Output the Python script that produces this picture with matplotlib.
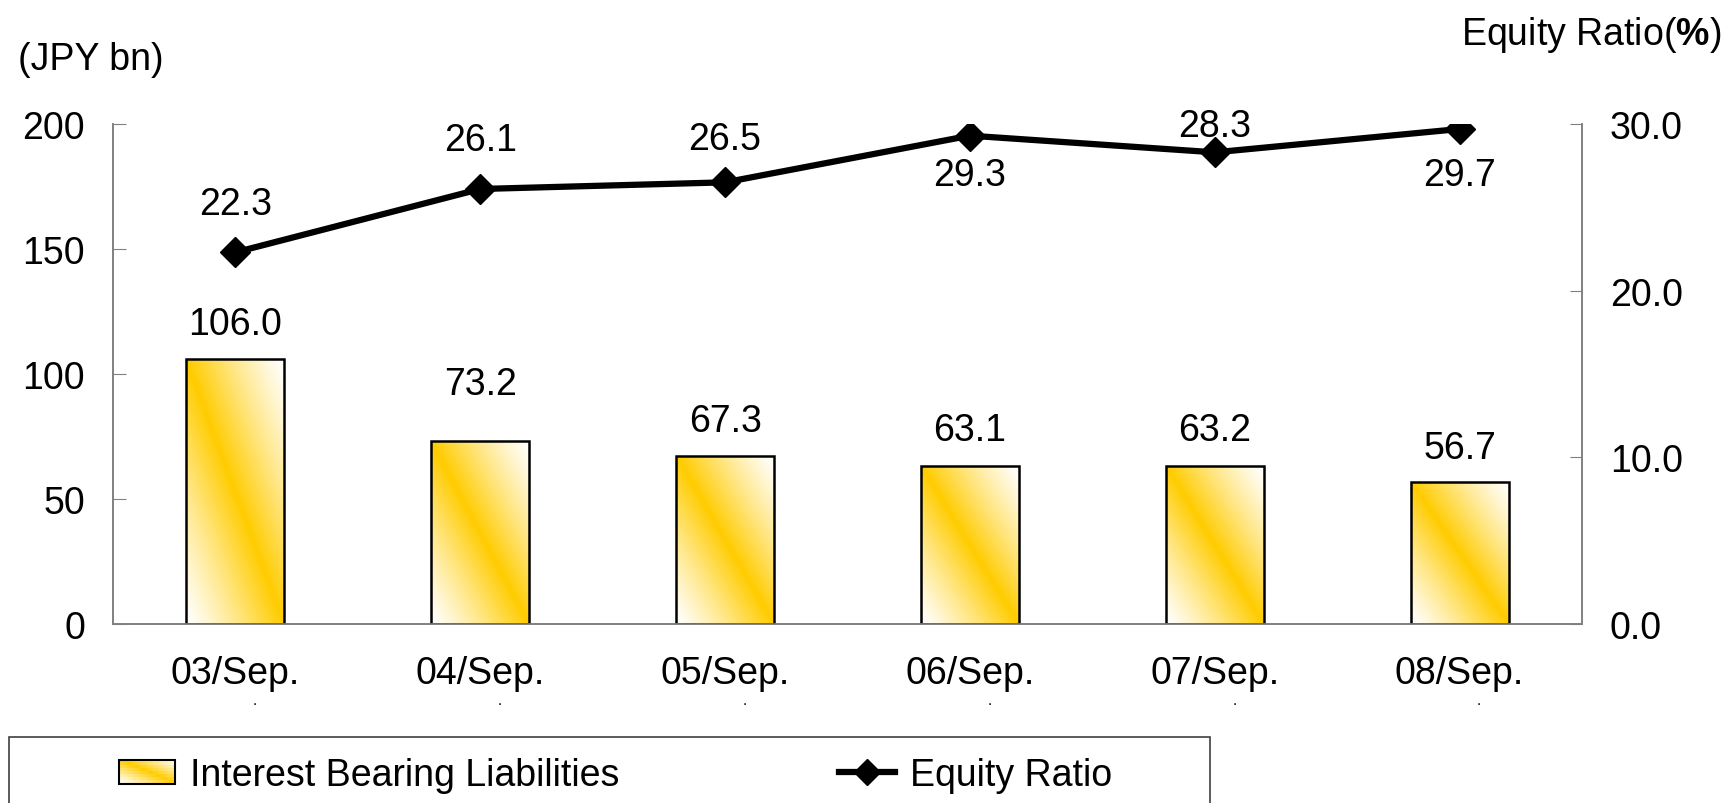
"""Interest bearing liabilities (bars) vs equity ratio (line), Sep. each year."""
import matplotlib
matplotlib.use("Agg")
import matplotlib.pyplot as plt
import numpy as np
from matplotlib.colors import to_rgb
from matplotlib.legend_handler import HandlerBase
from matplotlib.lines import Line2D
from matplotlib.patches import Rectangle

plt.rcParams["font.family"] = ["Liberation Sans", "DejaVu Sans"]
plt.rcParams["mathtext.fontset"] = "custom"
plt.rcParams["mathtext.rm"] = "Liberation Sans"
plt.rcParams["mathtext.bf"] = "Liberation Sans:bold"

# data
periods = ["03/Sep.", "04/Sep.", "05/Sep.", "06/Sep.", "07/Sep.", "08/Sep."]
liabilities = [106.0, 73.2, 67.3, 63.1, 63.2, 56.7]
equity_ratio = [22.3, 26.1, 26.5, 29.3, 28.3, 29.7]
left_ticks = [0, 50, 100, 150, 200]
right_ticks = [0.0, 10.0, 20.0, 30.0]

# label offsets (points, + is up)
bar_label_dy = [25, 41, 25, 26, 26, 25]
ratio_label_dy = [35, 35, 31, -28, 19, -33]

GOLD = np.array(to_rgb("#FFCC00"))
SPINE = "#808080"
FS = 27
W, H, DPI = 1729, 804, 100


def band(u, v):
    # gold along the top-left -> bottom-right diagonal, fading to white
    k = np.clip(1 - np.abs(u - v), 0, 1) ** 1.2
    return 1 - k[..., None] * (1 - GOLD)


def gradient_image(n=200):
    u = np.linspace(0, 1, n)[None, :].repeat(n, 0)
    v = np.linspace(0, 1, n)[:, None].repeat(n, 1)
    return band(u, v)


class GradientHandler(HandlerBase):
    def create_artists(self, legend, orig_handle, xdescent, ydescent,
                       width, height, fontsize, trans):
        arts = []
        nx, ny = 24, 8
        for i in range(nx):
            for j in range(ny):
                u, v = (i + 0.5) / nx, (j + 0.5) / ny
                col = band(np.array(u), np.array(v))
                arts.append(Rectangle((-xdescent + width * i / nx,
                                       -ydescent + height * (ny - 1 - j) / ny),
                                      width / nx + 0.3, height / ny + 0.3,
                                      facecolor=col, edgecolor="none", transform=trans))
        arts.append(Rectangle((-xdescent, -ydescent), width, height, facecolor="none",
                              edgecolor="black", lw=1.5, transform=trans))
        return arts


fig = plt.figure(figsize=(W / DPI, H / DPI), dpi=DPI)
ax = fig.add_axes([113 / W, 1 - 625 / H, (1582 - 113) / W, 500 / H])
ax2 = ax.twinx()

x = np.arange(len(periods))
bars = ax.bar(x, liabilities, width=0.4, facecolor="none", edgecolor="black", lw=1.8, zorder=3)
img = gradient_image()
for b in bars:
    x0, y0 = b.get_x(), b.get_y()
    im = ax.imshow(img, extent=(x0, x0 + b.get_width(), y0, y0 + b.get_height()),
                   aspect="auto", origin="upper", zorder=2, interpolation="bilinear")
    im.set_clip_path(b)

for xi, v, dy in zip(x, liabilities, bar_label_dy):
    ax.annotate(f"{v:.1f}", (xi, v), xytext=(0, dy), textcoords="offset points",
                ha="center", va="center", fontsize=FS)

ax2.plot(x, equity_ratio, color="black", lw=4.5, marker="D", markersize=15, zorder=4)
for xi, v, dy in zip(x, equity_ratio, ratio_label_dy):
    ax2.annotate(f"{v:.1f}", (xi, v), xytext=(0, dy), textcoords="offset points",
                 ha="center", va="center", fontsize=FS)

ax.set_xlim(-0.5, len(periods) - 0.5)
ax.set_ylim(0, 200)
ax.set_yticks(left_ticks)
ax2.set_ylim(0, 30)
ax2.set_yticks(right_ticks)
ax2.set_yticklabels([f"{t:.1f}" for t in right_ticks])
ax.set_xticks(x)
ax.set_xticklabels(periods)

for a in (ax, ax2):
    a.spines["top"].set_visible(False)
    for s in ("left", "right", "bottom"):
        a.spines[s].set_color(SPINE)
        a.spines[s].set_linewidth(1.2)
ax.tick_params(axis="y", direction="in", length=9, color=SPINE, labelsize=FS, pad=20)
ax2.tick_params(axis="y", direction="in", length=9, color=SPINE, labelsize=FS, pad=20)
ax.tick_params(axis="x", length=0, labelsize=FS, pad=22)

# stray dot under each period label in the source chart
for xi in x:
    ax.annotate(".", (xi, 0), xytext=(14, -55), textcoords="offset points",
                ha="center", va="center", fontsize=11)

fig.text(18 / W, 1 - 60 / H, "(JPY bn)", fontsize=FS, ha="left", va="center")
fig.text(1721 / W, 1 - 35 / H, r"Equity Ratio($\mathbf{\%}$)", fontsize=FS, ha="right", va="center")

# legend box (runs off the bottom of the picture)
fig.patches.append(Rectangle((9 / W, -0.1), (1210 - 9) / W, 0.1 + 1 - 738 / H,
                             transform=fig.transFigure, facecolor="none",
                             edgecolor="#404040", lw=1.2))
handles = [Rectangle((0, 0), 1, 1), Line2D([], [], color="black", lw=4.5, marker="D", markersize=13)]
fig.legend(handles, ["Interest Bearing Liabilities", "Equity Ratio"],
           handler_map={Rectangle: GradientHandler()},
           loc="center left", bbox_to_anchor=(119 / W, 1 - 776 / H), ncol=2,
           frameon=False, fontsize=FS, handlelength=1.5, handleheight=0.6,
           handletextpad=0.4, columnspacing=5.85, borderpad=0, borderaxespad=0)

fig.savefig("out.png", dpi=DPI)
